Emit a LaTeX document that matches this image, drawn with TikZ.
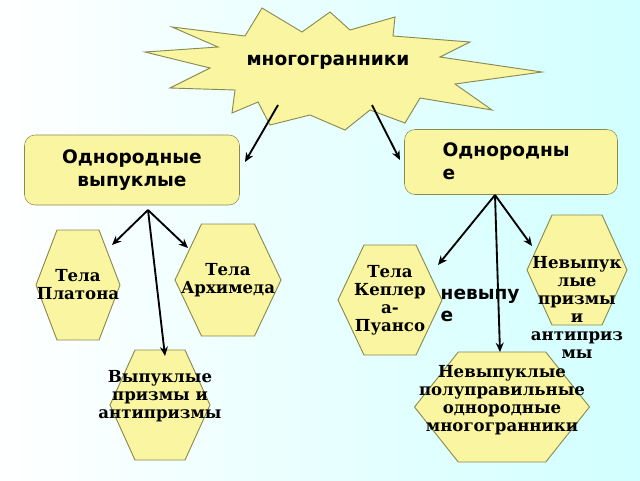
\documentclass[tikz,border=0pt]{standalone}
\usepackage{fontspec}
\setmainfont{DejaVu Serif}
\setsansfont{DejaVu Sans}
\usetikzlibrary{calc,arrows.meta}
\definecolor{fillY}{HTML}{FAF5A0}
\definecolor{edgeY}{HTML}{8A8A50}
\begin{document}
\begin{tikzpicture}[x=0.0265cm,y=-0.0265cm,
  arr/.style={-{Stealth[length=7pt,width=6pt]},line width=1.4pt},
  box/.style={draw=edgeY,fill=fillY,rounded corners=8pt},
  hexn/.style={inner sep=0pt},
  ht/.style={font=\rmfamily\bfseries\fontsize{12.5}{13.5}\selectfont,align=center},
  bt/.style={font=\sffamily\bfseries\fontsize{14}{17}\selectfont}]
\newcommand{\hexdraw}[5]{%
  \draw[draw=edgeY,fill=fillY,line width=0.7pt] (#1-#3/2,#2) -- (#1-#3/4,#2-#4/2) -- (#1+#3/4,#2-#4/2) -- (#1+#3/2,#2) -- (#1+#3/4,#2+#4/2) -- (#1-#3/4,#2+#4/2) -- cycle;
  \node[hexn,minimum width=#3*0.0265cm,minimum height=#4*0.0265cm] (#5) at (#1,#2) {};}
\shade[left color=white,right color=cyan!18] (0,0) rectangle (640,480);
\useasboundingbox (0,0) rectangle (640,480);
% star
\draw[draw=edgeY,fill=fillY,line width=0.7pt] (145,52) -- (218,47) -- (172,27) -- (245,36) -- (262,8) -- (302,32) -- (330,12) -- (350,30) -- (395,17) -- (393,36) -- (470,42) -- (440,57) -- (542,72) -- (455,84) -- (492,110) -- (420,98) -- (405,123) -- (370,110) -- (345,130) -- (310,115) -- (270,125) -- (258,102) -- (232,113) -- (235,90) -- (170,88) -- (210,68) -- cycle;
\node[bt] (star) at (328,62) {многогранники};
% boxes
\node[box,minimum width=215*0.0265cm,minimum height=70*0.0265cm] (L) at (132,170) {};
\node[bt,align=center] at (132,170) {Однородные\\ выпуклые};
\node[box,minimum width=213*0.0265cm,minimum height=65*0.0265cm] (R) at (511,162) {};
\node[bt,align=left,anchor=north west] at (438,138) {Однородны\\е};
\coordinate (s1) at (278,105); \coordinate (s2) at (372,105);
\draw[arr] (s1) -- (245,162);
\draw[arr] (s2) -- (400,160);
% stray text
\node[bt,align=left,anchor=north west] at (436,284) {невыпу\\е};
% hexagons
\hexdraw{78}{285}{84}{110}{h1}
\node[ht] at (h1) {Тела\\Платона};
\hexdraw{228}{280}{106}{112}{h2}
\node[ht] at (h2) {Тела\\Архимеда};
\hexdraw{160}{405}{100}{110}{h3}
\node[ht] at (160,396) {Выпуклые\\призмы и\\антипризмы};
\hexdraw{390}{300}{104}{110}{h4}
\node[ht] at (h4) {Тела\\Кеплер\\а-\\Пуансо};
\hexdraw{577}{270}{100}{110}{h5}
\hexdraw{502}{407}{175}{110}{h6}
\node[ht,anchor=north] at (577,252) {Невыпук\\лые\\призмы\\и\\антиприз\\мы};
\node[ht] at (502,400) {Невыпуклые\\полуправильные\\однородные\\многогранники};
% arrows
\coordinate (lt) at (148,210); \coordinate (rt) at (495,195);
\draw[arr] (lt) -- (112,245);
\draw[arr] (lt) -- (188,248);
\draw[arr] (lt) -- (165,356);
\draw[arr] (rt) -- (438,265);
\draw[arr] (rt) -- (500,352);
\draw[arr] (rt) -- (532,246);
\end{tikzpicture}
\end{document}
